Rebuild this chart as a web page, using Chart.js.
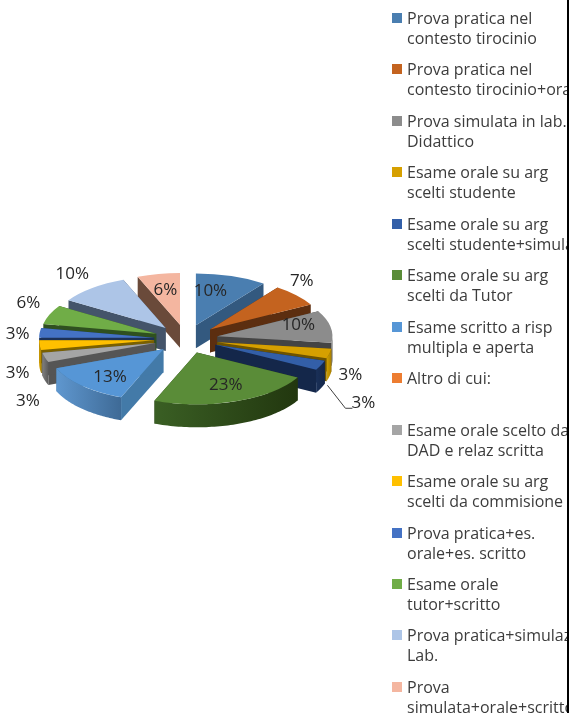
<!DOCTYPE html>
<html><head><meta charset="utf-8">
<script src="https://cdn.jsdelivr.net/npm/chart.js@4"></script>
<style>
html,body{margin:0;padding:0;background:#fff;overflow:hidden}
#wrap{position:relative;width:569px;height:713px;overflow:hidden}
#c{position:absolute;left:0;top:0}
#legend{position:absolute;left:0;top:0;width:567px;height:713px;overflow:hidden}
.sw{position:absolute;left:392px;width:10px;height:10px}
.tx{position:absolute;left:407px;font:16px/20px "Open Sans",sans-serif;color:#3c3c3c;white-space:pre}
#edge{position:absolute;left:567px;top:0;width:2px;height:713px;background:#000}
</style></head><body>
<div id="wrap"><canvas id="c" width="569" height="713"></canvas><div id="legend"></div><div id="edge"></div></div>
<script>
const categories=[
"Prova pratica nel\ncontesto tirocinio","Prova pratica nel\ncontesto tirocinio+orale","Prova simulata in lab.\nDidattico",
"Esame orale su arg\nscelti studente","Esame orale su arg\nscelti studente+simulata","Esame orale su arg\nscelti da Tutor",
"Esame scritto a risp\nmultipla e aperta","Altro di cui:","Esame orale scelto dal\nDAD e relaz scritta",
"Esame orale su arg\nscelti da commisione","Prova pratica+es.\norale+es. scritto","Esame orale\ntutor+scritto",
"Prova pratica+simulaz.\nLab.","Prova\nsimulata+orale+scritto"];
const percentages=[10,7,10,3,3,23,13,0,3,3,3,6,10,6];
const topColors=["#4a7eb0","#c4631f","#8c8c8c","#d6a000","#335fa8","#5a8c38","#5696d6","#ed7d31","#a5a5a5","#ffc000","#4472c4","#70ad47","#adc5e7","#f4b6a0"];
const wallColors=["#33597f","#5c2e10","#444444","#6e5300","#14274a","#233a13","#437aa8","#8a4a1a","#555555","#7a6000","#1c3157","#2f5020","#44546a","#6a4a3a"];
const rimLeft=["#3a6690","#7a3d14","#707070","#d0a000","#1a3058","#3a5f24","#5f97cf","#8a4a1a","#808080","#d8a200","#2f5597","#4f7a30","#7f93b0","#a08070"];
const rimRight=["#2f5578","#5c2e10","#444444","#a87f00","#14274a","#22370f","#3e6a96","#8a4a1a","#5a5a5a","#b08600","#2a4a86","#3f6428","#6a7d98","#8a6a58"];
const labelNudge=[[-21,15],[5.5,-14],[-32,-1.5],[21,22],[42.5,38],[-10,-16.5],[28,-9],[0,0],[-17,44],[-22,28],[-22,1],[-21,-11],[-20,-14],[7,16]];
const TILT=0.45,DEPTH=23,EXPLODE=32;

const legend=document.getElementById('legend');
categories.forEach((t,i)=>{
  const top=8+51.45*i;
  const s=document.createElement('div');s.className='sw';s.style.top=(top+5)+'px';s.style.background=topColors[i];legend.appendChild(s);
  const d=document.createElement('div');d.className='tx';d.style.top=top+'px';d.textContent=t;legend.appendChild(d);
});

const pie3d={
  id:'pie3d',
  beforeDatasetDraw(chart,args){
    const ctx=chart.ctx,arcs=chart.getDatasetMeta(0).data;
    const order=arcs.map((a,i)=>i).filter(i=>percentages[i]>0).sort((p,q)=>{
      const mp=(arcs[p].startAngle+arcs[p].endAngle)/2,mq=(arcs[q].startAngle+arcs[q].endAngle)/2;
      return Math.sin(mp)-Math.sin(mq);
    });
    order.forEach(i=>{
      const a=arcs[i],cx=a.x,cy=a.y,r=a.outerRadius,mid=(a.startAngle+a.endAngle)/2;
      const ex=EXPLODE*Math.cos(mid),ey=EXPLODE*TILT*Math.sin(mid);
      const ax=cx+ex,ay=cy+ey;
      const pt=t=>[ax+r*Math.cos(t),ay+r*TILT*Math.sin(t)];
      ctx.fillStyle=wallColors[i];
      [a.startAngle,a.endAngle].forEach(t=>{
        const p=pt(t);
        ctx.beginPath();ctx.moveTo(ax,ay);ctx.lineTo(p[0],p[1]);ctx.lineTo(p[0],p[1]+DEPTH);ctx.lineTo(ax,ay+DEPTH);ctx.closePath();ctx.fill();
      });
      const steps=60,top=[];
      for(let k=0;k<=steps;k++){
        const t=a.startAngle+(a.endAngle-a.startAngle)*k/steps;
        if(Math.sin(t)>=-0.02)top.push(pt(t));
      }
      if(top.length>1){
        const xs=top.map(p=>p[0]),g=ctx.createLinearGradient(Math.min(...xs),0,Math.max(...xs),0);
        g.addColorStop(0,rimLeft[i]);g.addColorStop(1,rimRight[i]);
        ctx.fillStyle=g;ctx.beginPath();
        top.forEach((p,k)=>k?ctx.lineTo(p[0],p[1]):ctx.moveTo(p[0],p[1]));
        top.slice().reverse().forEach(p=>ctx.lineTo(p[0],p[1]+DEPTH));
        ctx.closePath();ctx.fill();
      }
      ctx.save();
      ctx.translate(ex,ey);
      ctx.translate(cx,cy);ctx.scale(1,TILT);ctx.translate(-cx,-cy);
      a.draw(ctx);
      ctx.restore();
    });
    ctx.save();
    ctx.font='17px "Open Sans",sans-serif';ctx.fillStyle='#262626';ctx.textAlign='center';ctx.textBaseline='middle';
    arcs.forEach((a,i)=>{
      if(!percentages[i])return;
      const mid=(a.startAngle+a.endAngle)/2,rr=a.outerRadius+EXPLODE;
      const x=a.x+rr*Math.cos(mid)+labelNudge[i][0],y=a.y+rr*TILT*Math.sin(mid)+labelNudge[i][1];
      ctx.fillText(percentages[i]+'%',x,y);
      if(i===4){
        ctx.strokeStyle='#404040';ctx.lineWidth=1;ctx.beginPath();
        ctx.moveTo(x-36,y-18);ctx.lineTo(x-18,y+5);ctx.lineTo(x-11,y+5);ctx.stroke();
      }
    });
    ctx.restore();
    return false;
  }
};

new Chart(document.getElementById('c'),{
  type:'pie',
  data:{labels:categories,datasets:[{data:percentages,backgroundColor:topColors,borderWidth:0}]},
  options:{responsive:false,animation:false,
    layout:{padding:{left:71,right:268,top:224,bottom:259}},
    plugins:{legend:{display:false},tooltip:{enabled:false}}},
  plugins:[pie3d]
});
</script></body></html>
